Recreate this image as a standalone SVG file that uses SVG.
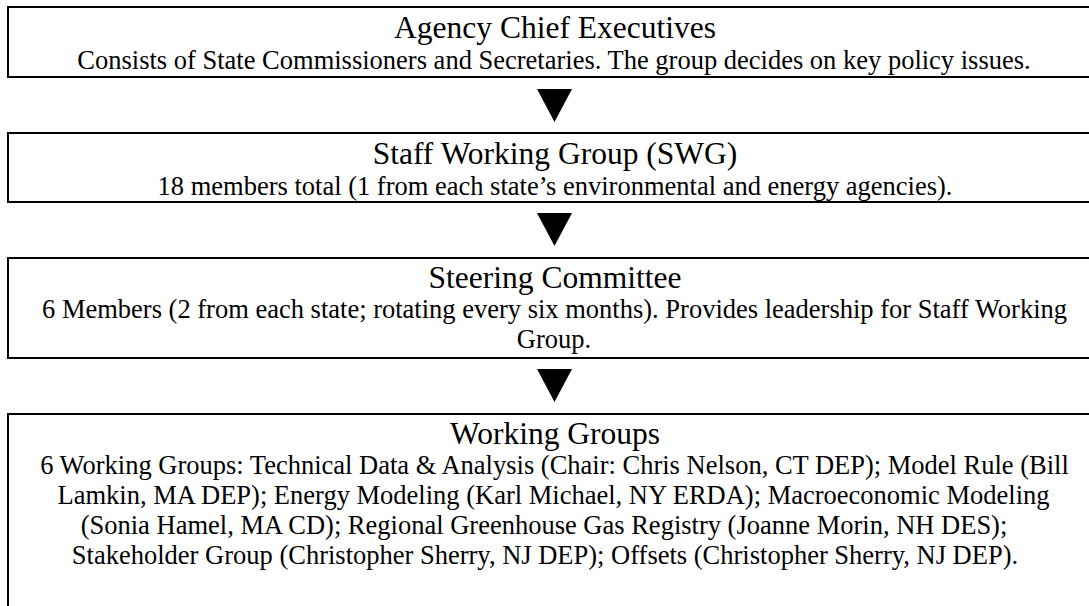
<svg xmlns="http://www.w3.org/2000/svg" width="1089" height="606" viewBox="0 0 1089 606">
<style>
.box{fill:#fff;stroke:#000;stroke-width:2}
.t{font-family:"Liberation Serif","Times New Roman",serif;font-size:31.5px;fill:#000;text-anchor:middle}
.b{font-family:"Liberation Serif","Times New Roman",serif;font-size:26.5px;fill:#000;text-anchor:middle}
.arr{fill:#000}
</style>
<rect width="1089" height="606" fill="#fff"/>
<g id="agency-chief-executives">
<rect class="box" x="8" y="7" width="1094" height="70"/>
<text class="t" x="555" y="38">Agency Chief Executives</text>
<text class="b" x="554" y="69">Consists of State Commissioners and Secretaries. The group decides on key policy issues.</text>
</g>
<g id="staff-working-group">
<rect class="box" x="8" y="133" width="1094" height="69"/>
<text class="t" x="555" y="164">Staff Working Group (SWG)</text>
<text class="b" x="555" y="195">18 members total (1 from each state’s environmental and energy agencies).</text>
</g>
<g id="steering-committee">
<rect class="box" x="8" y="258" width="1094" height="100"/>
<text class="t" x="555" y="288">Steering Committee</text>
<text class="b" x="554.5" y="318">6 Members (2 from each state; rotating every six months). Provides leadership for Staff Working</text>
<text class="b" x="554" y="348">Group.</text>
</g>
<g id="working-groups">
<rect class="box" x="8" y="414" width="1094" height="240"/>
<text class="t" x="555" y="444">Working Groups</text>
<text class="b" x="554.5" y="474">6 Working Groups: Technical Data &amp; Analysis (Chair: Chris Nelson, CT DEP); Model Rule (Bill</text>
<text class="b" x="553.5" y="504">Lamkin, MA DEP); Energy Modeling (Karl Michael, NY ERDA); Macroeconomic Modeling</text>
<text class="b" x="544" y="534">(Sonia Hamel, MA CD); Regional Greenhouse Gas Registry (Joanne Morin, NH DES);</text>
<text class="b" x="545" y="564">Stakeholder Group (Christopher Sherry, NJ DEP); Offsets (Christopher Sherry, NJ DEP).</text>
</g>
<g id="connectors">
<polygon class="arr" points="537,89 572,89 554.5,122"/>
<polygon class="arr" points="537,213 572,213 554.5,246"/>
<polygon class="arr" points="537,369 572,369 554.5,402"/>
</g>
</svg>
